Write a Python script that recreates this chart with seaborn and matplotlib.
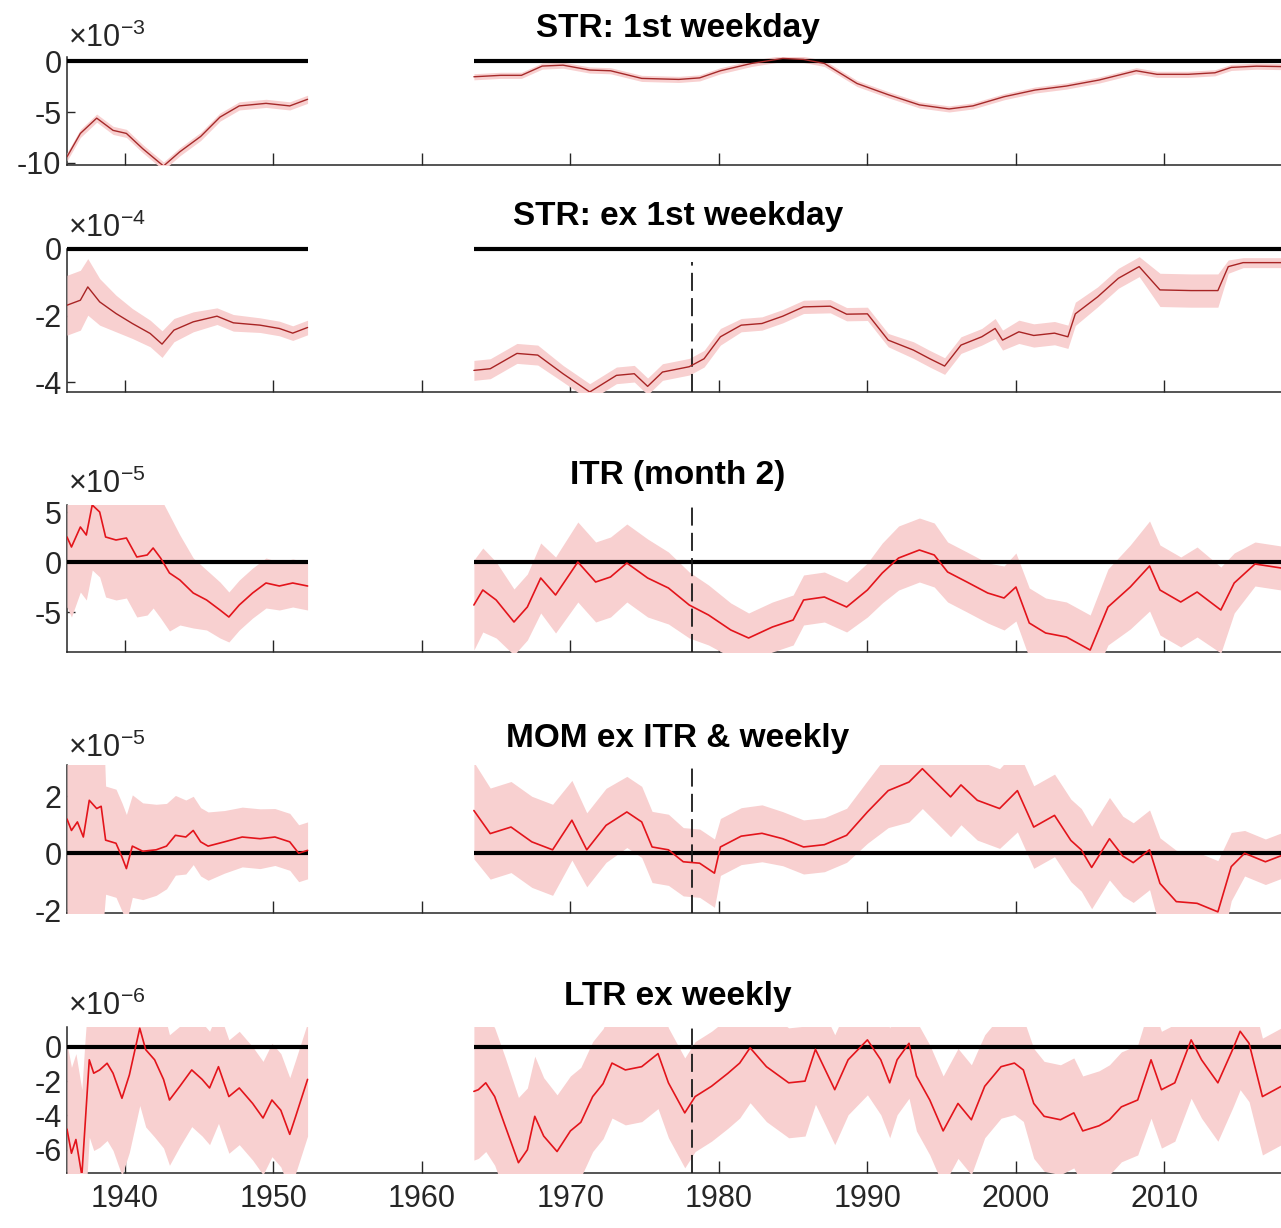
import numpy as np
import matplotlib
matplotlib.use("Agg")
import matplotlib.pyplot as plt
from matplotlib import font_manager
import seaborn as sns

# ---------------------------------------------------------------- data
# Two sample windows per series: 1936-1952 and 1963-2018.
# Values are in units of the per-panel exponent (x10^-k).

# STR: 1st weekday (x10^-3)
str1_years_a = [1936.1, 1937.0, 1938.1, 1939.2, 1940.1, 1941.2, 1942.6, 1943.7, 1945.1, 1946.4,
                1947.7, 1949.5, 1951.1, 1952.3]
str1_vals_a = [-9.4, -7.1, -5.6, -6.8, -7.1, -8.6, -10.3, -8.9, -7.4, -5.5,
               -4.4, -4.15, -4.4, -3.75]
str1_band_a = [0.4, 0.4, 0.4, 0.4, 0.4, 0.4, 0.4, 0.4, 0.4, 0.4,
               0.4, 0.4, 0.4, 0.4]
str1_years_b = [1963.5, 1965.3, 1966.7, 1968.1, 1969.5, 1971.3, 1972.7, 1974.8, 1977.3, 1978.7,
                1980.1, 1982.2, 1984.3, 1985.7, 1987.1, 1989.3, 1991.4, 1993.5, 1995.5, 1997.1,
                1999.2, 2001.3, 2003.4, 2005.6, 2008.1, 2009.5, 2011.6, 2013.4, 2014.5, 2016.2,
                2018.3]
str1_vals_b = [-1.54, -1.4, -1.4, -0.49, -0.4, -0.88, -0.95, -1.7, -1.8, -1.65,
               -0.95, -0.23, 0.26, 0.16, -0.23, -2.2, -3.3, -4.3, -4.7, -4.4,
               -3.5, -2.84, -2.45, -1.86, -0.95, -1.3, -1.3, -1.15, -0.62, -0.5,
               -0.55]
str1_band_b = [0.3, 0.3, 0.3, 0.3, 0.3, 0.3, 0.3, 0.3, 0.3, 0.3,
               0.3, 0.3, 0.3, 0.3, 0.3, 0.3, 0.3, 0.3, 0.3, 0.3,
               0.3, 0.3, 0.3, 0.3, 0.3, 0.3, 0.3, 0.3, 0.3, 0.3,
               0.3]

# STR: ex 1st weekday (x10^-4)
str2_years_a = [1936.1, 1937.0, 1937.5, 1938.3, 1939.4, 1940.5, 1941.7, 1942.5, 1943.3, 1944.6,
                1946.2, 1947.3, 1949.1, 1950.4, 1951.3, 1952.3]
str2_vals_a = [-1.69, -1.54, -1.14, -1.59, -1.94, -2.24, -2.54, -2.86, -2.44, -2.19,
               -2.02, -2.22, -2.29, -2.39, -2.53, -2.36]
str2_band_a = [0.9, 0.9, 0.85, 0.7, 0.55, 0.45, 0.4, 0.4, 0.35, 0.3,
               0.25, 0.25, 0.22, 0.22, 0.22, 0.22]
str2_years_b = [1963.5, 1964.6, 1966.4, 1967.8, 1969.5, 1971.3, 1973.1, 1974.3, 1975.2, 1976.2,
                1978.0, 1979.0, 1980.1, 1981.5, 1982.9, 1984.3, 1985.7, 1987.5, 1988.6, 1990.0,
                1991.4, 1993.1, 1994.2, 1995.2, 1996.3, 1997.7, 1998.6, 1999.1, 2000.2, 2001.2,
                2002.6, 2003.5, 2004.0, 2005.5, 2006.9, 2008.3, 2009.7, 2011.8, 2013.6, 2014.3,
                2015.3, 2018.3]
str2_vals_b = [-3.65, -3.6, -3.14, -3.19, -3.75, -4.3, -3.8, -3.75, -4.13, -3.7,
               -3.54, -3.3, -2.64, -2.29, -2.24, -2.02, -1.74, -1.72, -1.96, -1.95,
               -2.74, -3.04, -3.3, -3.52, -2.89, -2.64, -2.39, -2.74, -2.49, -2.6,
               -2.53, -2.64, -1.95, -1.44, -0.88, -0.53, -1.23, -1.25, -1.25, -0.53,
               -0.41, -0.41]
str2_band_b = [0.3, 0.3, 0.3, 0.3, 0.25, 0.25, 0.25, 0.25, 0.25, 0.25,
               0.25, 0.25, 0.25, 0.2, 0.2, 0.2, 0.2, 0.2, 0.2, 0.2,
               0.2, 0.25, 0.25, 0.25, 0.25, 0.25, 0.3, 0.3, 0.35, 0.35,
               0.35, 0.35, 0.35, 0.3, 0.3, 0.3, 0.5, 0.5, 0.5, 0.2,
               0.15, 0.15]

# ITR (month 2) (x10^-5)
itr_years_a = [1936.1, 1936.4, 1937.0, 1937.4, 1937.8, 1938.3, 1938.7, 1939.4, 1940.1, 1940.8,
               1941.5, 1941.9, 1942.4, 1943.0, 1943.7, 1944.6, 1945.5, 1946.4, 1947.0, 1947.7,
               1948.6, 1949.5, 1950.4, 1951.3, 1952.3]
itr_vals_a = [2.5, 1.5, 3.5, 2.7, 5.7, 5.0, 2.5, 2.2, 2.4, 0.5,
              0.7, 1.4, 0.4, -1.1, -1.8, -3.1, -3.8, -4.8, -5.5, -4.3,
              -3.1, -2.1, -2.4, -2.1, -2.4]
itr_band_a = [7, 7, 6.5, 6.5, 6.5, 6.5, 6, 6, 6, 6,
              6, 6, 6, 5.8, 4.5, 3.5, 3, 2.8, 2.5, 2.5,
              2.5, 2.5, 2.4, 2.4, 2.4]
itr_years_b = [1963.5, 1964.1, 1965.0, 1966.2, 1967.1, 1968.0, 1969.0, 1970.5, 1971.7, 1972.7,
               1973.8, 1975.2, 1976.6, 1978.0, 1979.3, 1980.8, 1982.0, 1983.6, 1985.0, 1985.7,
               1987.1, 1988.6, 1990.0, 1991.0, 1992.1, 1993.5, 1994.5, 1995.4, 1996.7, 1998.1,
               1999.2, 2000.0, 2000.9, 2002.0, 2003.4, 2005.0, 2006.2, 2007.7, 2009.0, 2009.7,
               2011.1, 2012.2, 2013.8, 2014.7, 2016.1, 2018.3]
itr_vals_b = [-4.3, -2.8, -3.8, -6.0, -4.5, -1.6, -3.3, 0.0, -2.0, -1.5,
              -0.1, -1.6, -2.6, -4.3, -5.3, -6.8, -7.6, -6.5, -5.8, -3.8,
              -3.5, -4.5, -2.8, -1.1, 0.4, 1.2, 0.7, -1.0, -2.0, -3.1,
              -3.6, -2.5, -6.1, -7.1, -7.5, -8.8, -4.5, -2.5, -0.4, -2.8,
              -4.0, -3.0, -4.8, -2.1, -0.2, -0.7]
itr_band_b = [4.5, 4.2, 3.8, 3.3, 3.3, 3.5, 3.8, 4.0, 4.0, 4.0,
              3.9, 3.9, 3.6, 3.3, 3.0, 2.7, 2.5, 2.5, 2.5, 2.5,
              2.5, 2.5, 2.7, 3.0, 3.2, 3.2, 3.2, 3.0, 3.0, 3.0,
              3.2, 3.4, 3.5, 3.5, 3.5, 3.5, 3.8, 4.2, 4.5, 4.5,
              4.5, 4.5, 4.3, 3.0, 2.2, 2.2]

# MOM ex ITR & weekly (x10^-5)
mom_years_a = [1936.1, 1936.4, 1936.8, 1937.2, 1937.6, 1938.1, 1938.4, 1938.7, 1939.4, 1939.8,
               1940.1, 1940.5, 1941.2, 1942.1, 1942.8, 1943.4, 1944.1, 1944.6, 1945.1, 1945.6,
               1946.7, 1947.9, 1949.1, 1950.1, 1951.1, 1951.7, 1952.3]
mom_vals_a = [1.2, 0.8, 1.1, 0.57, 1.86, 1.57, 1.65, 0.46, 0.35, -0.13,
              -0.54, 0.25, 0.07, 0.12, 0.25, 0.63, 0.57, 0.8, 0.4, 0.25,
              0.4, 0.57, 0.51, 0.57, 0.4, 0.0, 0.1]
mom_band_a = [5, 5, 5, 5, 5, 5, 5, 1.9, 1.9, 1.9,
              1.9, 1.8, 1.7, 1.6, 1.5, 1.4, 1.3, 1.2, 1.2, 1.2,
              1.1, 1.05, 1.05, 1.0, 1.0, 1.0, 1.0]
mom_years_b = [1963.5, 1964.6, 1966.0, 1967.4, 1968.8, 1970.1, 1971.1, 1972.4, 1973.8, 1974.8,
               1975.5, 1976.6, 1977.6, 1978.7, 1979.7, 1980.1, 1981.5, 1982.9, 1984.3, 1985.7,
               1987.1, 1988.6, 1990.0, 1991.4, 1992.8, 1993.7, 1994.6, 1995.6, 1996.3, 1997.4,
               1998.9, 2000.1, 2001.2, 2002.6, 2003.7, 2004.4, 2005.1, 2006.3, 2007.2, 2007.9,
               2009.0, 2009.7, 2010.8, 2012.2, 2013.6, 2014.5, 2015.4, 2016.8, 2018.3]
mom_vals_b = [1.5, 0.69, 0.92, 0.4, 0.12, 1.16, 0.12, 0.98, 1.45, 1.1,
              0.22, 0.12, -0.3, -0.35, -0.7, 0.22, 0.6, 0.7, 0.51, 0.22,
              0.3, 0.63, 1.45, 2.2, 2.5, 2.97, 2.5, 1.98, 2.4, 1.86,
              1.57, 2.2, 0.92, 1.33, 0.45, 0.12, -0.5, 0.51, -0.1, -0.33,
              0.12, -1.06, -1.7, -1.76, -2.06, -0.47, 0.0, -0.3, 0.0]
mom_band_b = [1.7, 1.6, 1.6, 1.6, 1.6, 1.4, 1.3, 1.3, 1.25, 1.25,
              1.25, 1.25, 1.2, 1.2, 1.2, 1.0, 1.0, 1.0, 0.95, 0.95,
              0.95, 0.95, 1.1, 1.3, 1.4, 1.4, 1.4, 1.4, 1.4, 1.4,
              1.4, 1.45, 1.45, 1.45, 1.45, 1.45, 1.45, 1.45, 1.4, 1.4,
              1.4, 1.6, 1.8, 1.8, 1.8, 1.2, 0.8, 0.8, 0.8]

# LTR ex weekly (x10^-6)
ltr_years_a = [1936.1, 1936.4, 1936.7, 1937.1, 1937.3, 1937.6, 1937.9, 1938.3, 1938.8, 1939.2,
               1939.8, 1940.3, 1941.0, 1941.4, 1942.0, 1942.6, 1943.0, 1943.7, 1944.5, 1945.2,
               1945.7, 1946.3, 1947.0, 1947.7, 1948.6, 1949.3, 1949.9, 1950.5, 1951.1, 1951.5,
               1952.3]
ltr_vals_a = [-4.8, -6.2, -5.4, -7.5, -4.8, -0.76, -1.54, -1.35, -0.96, -1.54,
              -3.0, -1.64, 1.08, -0.17, -0.76, -1.9, -3.1, -2.3, -1.35, -1.9,
              -2.4, -1.16, -2.9, -2.4, -3.3, -4.15, -3.1, -3.7, -5.1, -4.05,
              -1.9]
ltr_band_a = [5, 5, 5, 5, 5, 4.5, 4.5, 4.5, 4.5, 4.5,
              4.5, 4.5, 4.5, 4.5, 4.5, 4.0, 3.8, 3.5, 3.3, 3.3,
              3.3, 3.3, 3.3, 3.3, 3.3, 3.3, 3.3, 3.3, 3.3, 3.3,
              3.3]
ltr_years_b = [1963.5, 1963.8, 1964.3, 1964.9, 1965.6, 1966.5, 1967.1, 1967.6, 1968.2, 1969.1,
               1970.0, 1970.7, 1971.5, 1972.2, 1972.8, 1973.7, 1974.8, 1975.9, 1976.6, 1977.7,
               1978.4, 1979.5, 1980.6, 1981.4, 1982.1, 1983.2, 1984.7, 1985.8, 1986.5, 1987.8,
               1988.7, 1990.0, 1990.9, 1991.5, 1992.0, 1992.8, 1993.3, 1994.2, 1995.1, 1996.1,
               1997.0, 1997.9, 1999.0, 1999.9, 2000.5, 2001.2, 2001.9, 2003.0, 2003.9, 2004.5,
               2005.6, 2006.3, 2007.1, 2008.2, 2009.1, 2009.8, 2010.7, 2011.8, 2012.5, 2013.6,
               2014.6, 2015.1, 2015.7, 2016.6, 2018.3]
ltr_vals_b = [-2.6, -2.5, -2.1, -2.9, -4.6, -6.75, -6.0, -4.05, -5.2, -6.1,
              -4.9, -4.4, -2.9, -2.15, -0.95, -1.35, -1.16, -0.4, -2.1, -3.85,
              -2.9, -2.3, -1.55, -0.95, -0.06, -1.16, -2.1, -2.0, -0.15, -2.5,
              -0.76, 0.4, -0.76, -2.1, -0.76, 0.2, -1.7, -3.1, -4.9, -3.3,
              -4.25, -2.3, -1.16, -0.95, -1.35, -3.3, -4.05, -4.25, -3.85, -4.9,
              -4.6, -4.25, -3.5, -3.1, -0.76, -2.5, -2.1, 0.4, -0.76, -2.1,
              -0.15, 0.9, 0.2, -2.9, -2.1]
ltr_band_b = [4.0, 4.0, 4.0, 4.0, 4.0, 3.8, 3.6, 3.5, 3.4, 3.3,
              3.2, 3.2, 3.2, 3.2, 3.2, 3.2, 3.2, 3.2, 3.2, 3.2,
              3.2, 3.2, 3.2, 3.2, 3.2, 3.2, 3.2, 3.2, 3.2, 3.2,
              3.2, 3.2, 3.2, 3.2, 3.2, 3.2, 3.2, 3.2, 3.2, 3.2,
              3.2, 3.0, 3.0, 3.0, 3.0, 3.2, 3.2, 3.2, 3.2, 3.2,
              3.2, 3.2, 3.2, 3.2, 3.4, 3.4, 3.4, 3.4, 3.4, 3.4,
              3.4, 3.4, 3.4, 3.4, 3.4]

titles = ["STR: 1st weekday", "STR: ex 1st weekday", "ITR (month 2)",
          "MOM ex ITR & weekly", "LTR ex weekly"]
exponents = [-3, -4, -5, -5, -6]
ytick_values = [[0, -5, -10], [0, -2, -4], [5, 0, -5], [2, 0, -2], [0, -2, -4, -6]]
xtick_values = [1940, 1950, 1960, 1970, 1980, 1990, 2000, 2010]
sample_windows = [(1936.1, 1952.3), (1963.5, 2018.4)]
break_year = 1978.2

series = [
    (str1_years_a, str1_vals_a, str1_band_a, str1_years_b, str1_vals_b, str1_band_b),
    (str2_years_a, str2_vals_a, str2_band_a, str2_years_b, str2_vals_b, str2_band_b),
    (itr_years_a, itr_vals_a, itr_band_a, itr_years_b, itr_vals_b, itr_band_b),
    (mom_years_a, mom_vals_a, mom_band_a, mom_years_b, mom_vals_b, mom_band_b),
    (ltr_years_a, ltr_vals_a, ltr_band_a, ltr_years_b, ltr_vals_b, ltr_band_b),
]

# ---------------------------------------------------------------- style
sns.set_theme(style="white")
available = {f.name for f in font_manager.fontManager.ttflist}
base_font = "Liberation Sans Narrow" if "Liberation Sans Narrow" in available else "Liberation Sans"
plt.rcParams["font.family"] = [base_font, "DejaVu Sans"]
plt.rcParams["mathtext.default"] = "regular"
plt.rcParams["axes.unicode_minus"] = False

W, H = 1281, 1228
fig = plt.figure(figsize=(W / 100, H / 100), dpi=100)

# axes boxes in pixels: (top, bottom), and y-limits per panel
boxes = [(57, 165), (249, 392), (505, 652), (765, 913), (1027, 1173)]
ylims = [(-10.2, 0.4), (-4.3, 0.0), (-9.0, 5.7), (-2.1, 3.1), (-7.35, 1.15)]
title_y = [28, 217, 475, 738, 997]
expo_baseline = [47, 237, 493, 757, 1015]
line_colors = ["#a52a2a", "#a82424", "#e3141b", "#e3141b", "#e3141b"]
line_widths = [1.0, 1.0, 1.2, 1.2, 1.2]
dash_top = [None, 0.91, 1.0, 1.0, 1.0]

left_px, right_px = 67, 1289
xlim = (1936.1, 1936.1 + (right_px - left_px) / 14.85)

band_color = "#f8d0d0"
axis_color = "#262626"

for i, (ya, va, ba, yb, vb, bb) in enumerate(series):
    top, bot = boxes[i]
    ax = fig.add_axes([left_px / W, 1 - bot / H, (right_px - left_px) / W, (bot - top) / H])
    ax.set_xlim(*xlim)
    ax.set_ylim(*ylims[i])

    for yrs, vals, band in ((ya, va, ba), (yb, vb, bb)):
        yrs = np.asarray(yrs)
        vals = np.asarray(vals)
        band = np.asarray(band)
        ax.fill_between(yrs, vals - band, vals + band, color=band_color,
                        linewidth=0, zorder=3)
        sns.lineplot(x=yrs, y=vals, ax=ax, color=line_colors[i],
                     linewidth=line_widths[i], estimator=None, sort=False,
                     zorder=5, legend=False)

    for x0, x1 in sample_windows:
        ax.plot([x0, x1], [0, 0], color="black", linewidth=3.0, zorder=4,
                clip_on=False, solid_capstyle="butt")

    if dash_top[i] is not None:
        ax.axvline(break_year, ymin=0, ymax=dash_top[i], color="#1a1a1a",
                   linewidth=1.3, linestyle=(0, (10, 4)), zorder=4)

    for side in ("top", "right"):
        ax.spines[side].set_visible(False)
    for side in ("left", "bottom"):
        ax.spines[side].set_color(axis_color)
        ax.spines[side].set_linewidth(1.1)

    ax.set_xticks(xtick_values)
    ax.set_yticks(ytick_values[i])
    ax.set_yticklabels([str(v) for v in ytick_values[i]])
    if i == len(series) - 1:
        ax.set_xticklabels([str(v) for v in xtick_values])
    else:
        ax.set_xticklabels([])
    ax.tick_params(axis="x", direction="in", length=9, width=1.0, colors=axis_color,
                   labelsize=22, pad=8, bottom=True)
    ax.tick_params(axis="y", direction="in", length=6, width=1.0, colors=axis_color,
                   labelsize=22, pad=4, left=True)
    ax.set_xlabel("")
    ax.set_ylabel("")
    ax.grid(False)

    fig.text(678 / W, 1 - title_y[i] / H, titles[i], ha="center", va="center",
             fontsize=24, fontweight="bold", color="black")
    fig.text(68 / W, 1 - expo_baseline[i] / H,
             r"$\times10^{%d}$" % exponents[i], ha="left", va="baseline",
             fontsize=22, color=axis_color)

fig.savefig("out.png", dpi=100, facecolor="white")
